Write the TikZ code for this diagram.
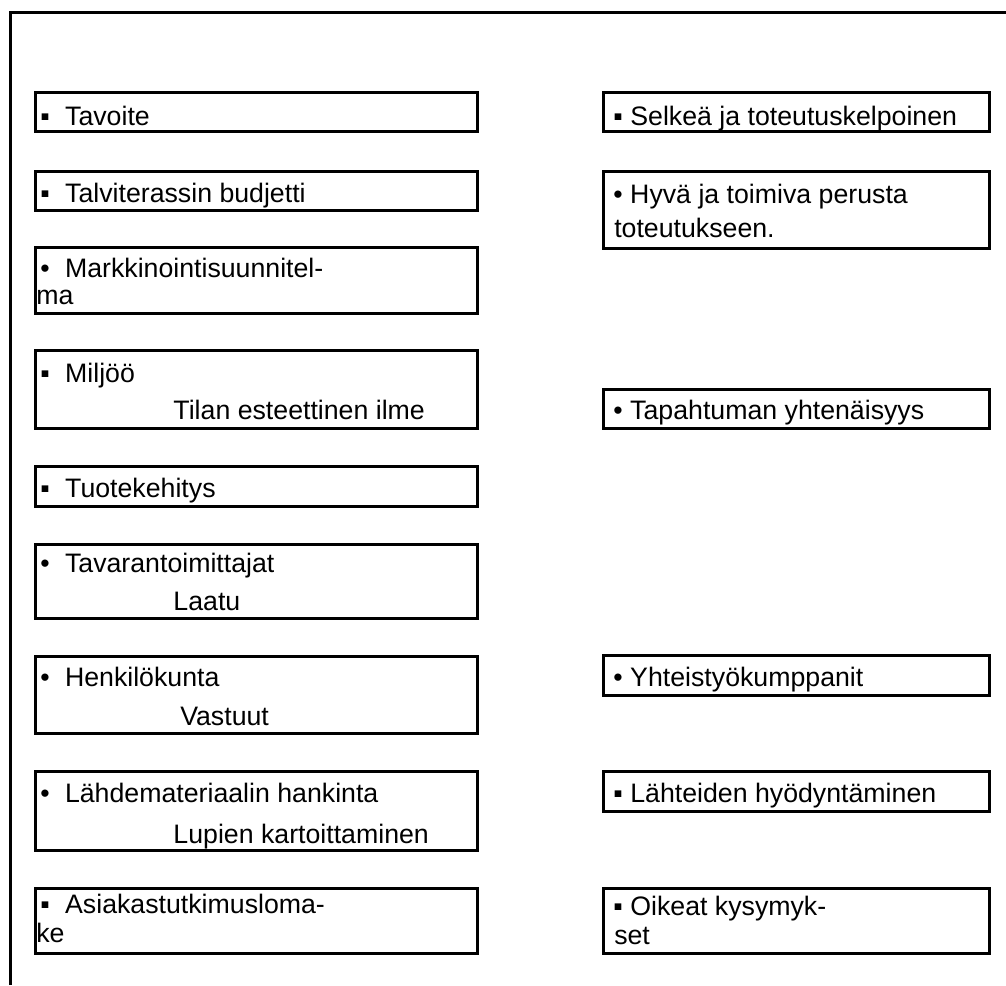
\documentclass[tikz,border=0pt]{standalone}
\usepackage{fontspec}
\setmainfont{Liberation Sans}
\usepackage{tikz}
\tikzset{
  frameline/.style={draw=black,line width=0.075cm},
  boxline/.style={draw=black,line width=0.075cm},
  item/.style={anchor=base west,inner sep=0pt,text=black,font=\fontsize{19}{22}\selectfont},
}
\newcommand{\lsp}{\hspace{0.2cm}}

\begin{document}
\begin{tikzpicture}[x=1cm,y=1cm]
  \useasboundingbox (0,0) rectangle (25.15,24.625);
  \draw[frameline] (0.25,0) -- (0.25,24.3) -- (25.15,24.3);
  % left column
  \draw[boxline] (0.875,21.325) rectangle (11.925,22.3);
  \node[item] (tavoite) at (1.0,21.475) {▪ \lsp Tavoite};
  \draw[boxline] (0.875,19.35) rectangle (11.925,20.325);
  \node[item] (budjetti) at (1.0,19.55) {▪ \lsp Talviterassin budjetti};
  \draw[boxline] (0.875,16.775) rectangle (11.925,18.425);
  \node[item] (markk) at (1.0,17.675) {• \lsp Markkinointisuunnitel-};
  \node[item] (markkb) at (0.9,17.0) {ma};
  \draw[boxline] (0.875,13.9) rectangle (11.925,15.85);
  \node[item] (miljoo) at (1.0,15.05) {▪ \lsp Miljöö};
  \node[item] (ilme) at (4.33,14.125) {Tilan esteettinen ilme};
  \draw[boxline] (0.875,11.95) rectangle (11.925,12.95);
  \node[item] (tuote) at (1.0,12.175) {▪ \lsp Tuotekehitys};
  \draw[boxline] (0.875,9.15) rectangle (11.925,11.0);
  \node[item] (tavarat) at (1.0,10.3) {• \lsp Tavarantoimittajat};
  \node[item] (laatu) at (4.33,9.35) {Laatu};
  \draw[boxline] (0.875,6.275) rectangle (11.925,8.2);
  \node[item] (henk) at (1.0,7.45) {• \lsp Henkilökunta};
  \node[item] (vastuut) at (4.5,6.475) {Vastuut};
  \draw[boxline] (0.875,3.375) rectangle (11.925,5.325);
  \node[item] (lahde) at (1.0,4.55) {• \lsp Lähdemateriaalin hankinta};
  \node[item] (luvat) at (4.33,3.55) {Lupien kartoittaminen};
  \draw[boxline] (0.875,0.8) rectangle (11.925,2.425);
  \node[item] (asiakas) at (1.0,1.8) {▪ \lsp Asiakastutkimusloma-};
  \node[item] (asiakasb) at (0.9,1.075) {ke};
  % right column
  \draw[boxline] (15.075,21.325) rectangle (24.725,22.3);
  \node[item] (selkea) at (15.33,21.475) {▪ Selkeä ja toteutuskelpoinen};
  \draw[boxline] (15.075,18.4) rectangle (24.725,20.325);
  \node[item] (perusta) at (15.33,19.525) {• Hyvä ja toimiva perusta};
  \node[item] (perustab) at (15.35,18.675) {toteutukseen.};
  \draw[boxline] (15.075,13.9) rectangle (24.725,14.875);
  \node[item] (yhtenaisyys) at (15.33,14.125) {• Tapahtuman yhtenäisyys};
  \draw[boxline] (15.075,7.225) rectangle (24.725,8.225);
  \node[item] (kumppanit) at (15.33,7.45) {• Yhteistyökumppanit};
  \draw[boxline] (15.075,4.325) rectangle (24.725,5.325);
  \node[item] (lahteet) at (15.33,4.55) {▪ Lähteiden hyödyntäminen};
  \draw[boxline] (15.075,0.8) rectangle (24.725,2.425);
  \node[item] (kysymykset) at (15.33,1.75) {▪ Oikeat kysymyk-};
  \node[item] (kysymyksetb) at (15.35,1.025) {set};
\end{tikzpicture}
\end{document}
